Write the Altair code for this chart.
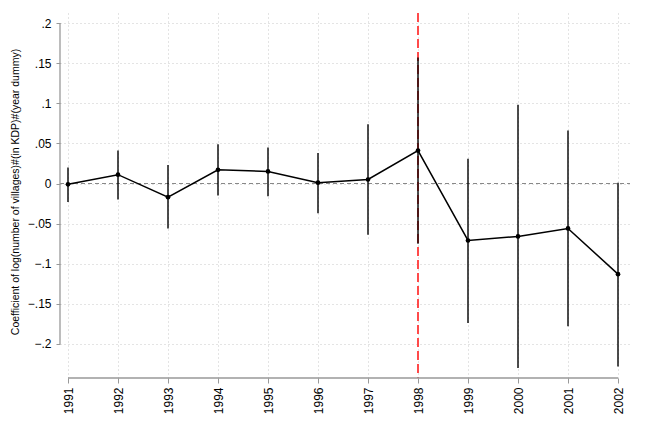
import altair as alt
import pandas as pd

years = [1991, 1992, 1993, 1994, 1995, 1996, 1997, 1998, 1999, 2000, 2001, 2002]
coef = [-0.001, 0.011, -0.017, 0.017, 0.015, 0.001, 0.005, 0.041, -0.071, -0.066, -0.056, -0.113]
ci_hi = [0.020, 0.041, 0.023, 0.049, 0.045, 0.038, 0.074, 0.157, 0.031, 0.098, 0.066, 0.001]
ci_lo = [-0.023, -0.020, -0.056, -0.015, -0.016, -0.037, -0.064, -0.075, -0.174, -0.230, -0.178, -0.228]
y_ticks = [-0.2, -0.15, -0.1, -0.05, 0, 0.05, 0.1, 0.15, 0.2]
event_year = [1998]

df = pd.DataFrame({"year": years, "coef": coef, "hi": ci_hi, "lo": ci_lo})

W, H = 570, 365
FONT = "Liberation Sans"

xscale = alt.Scale(domain=[1990.84, 2002.24], nice=False, zero=False)
yscale = alt.Scale(domain=[-0.2424, 0.2125], nice=False, zero=False)

base = alt.Chart(df)

x_axis = alt.Axis(values=years, labelAngle=-90, labelAlign="right", labelBaseline="middle",
                  format="d", grid=True, gridDash=[1, 3], gridColor="#c8c8c8", gridWidth=1,
                  domain=False, tickColor="#999999", tickSize=5, labelPadding=4,
                  labelFontSize=12, labelFont=FONT, labelColor="black", title=None)
y_axis = alt.Axis(values=y_ticks, grid=True, gridDash=[1, 3], gridColor="#c8c8c8", gridWidth=1,
                  domain=False, tickColor="#999999", tickSize=4, labelPadding=5,
                  labelFontSize=12, labelFont=FONT, labelColor="black",
                  labelExpr="datum.value == 0 ? '0' : replace(format(datum.value, '.2~f'), '0.', '.')",
                  title="Coefficient of log(number of villages)#(in KDP)#(year dummy)",
                  titleFont=FONT, titleFontSize=10.5, titleFontWeight="normal", titleColor="black",
                  titleAngle=-90, titleX=-45, titleY=H / 2 - 4, titleAlign="center",
                  titleBaseline="middle")

grid_layer = alt.Chart(pd.DataFrame({"year": years})).mark_point(opacity=0).encode(
    x=alt.X("year:Q", scale=xscale, axis=x_axis),
    y=alt.value(0),
)
grid_layer2 = alt.Chart(pd.DataFrame({"v": y_ticks})).mark_point(opacity=0).encode(
    y=alt.Y("v:Q", scale=yscale, axis=y_axis),
    x=alt.value(0),
)

# axis lines spanning tick range (Stata style)
yaxis_line = alt.Chart(pd.DataFrame({"a": [min(y_ticks)], "b": [max(y_ticks)]})).mark_rule(
    color="#999999", strokeWidth=1.3).encode(
    x=alt.value(0), y=alt.Y("a:Q", scale=yscale), y2="b:Q")
xaxis_line = alt.Chart(pd.DataFrame({"a": [min(years)], "b": [max(years)]})).mark_rule(
    color="#999999", strokeWidth=1.3).encode(
    y=alt.value(H), x=alt.X("a:Q", scale=xscale), x2="b:Q")

zero_line = alt.Chart(pd.DataFrame({"z": [0]})).mark_rule(
    color="#888888", strokeDash=[4, 3], strokeWidth=1).encode(
    y=alt.Y("z:Q", scale=yscale), x=alt.value(0), x2=alt.value(W))

red_line = alt.Chart(pd.DataFrame({"e": event_year})).mark_rule(
    color="#ff4a4a", strokeDash=[9, 4], strokeWidth=2).encode(
    x=alt.X("e:Q", scale=xscale), y=alt.value(0), y2=alt.value(H))

err = base.mark_rule(color="black", strokeWidth=1.4).encode(
    x=alt.X("year:Q", scale=xscale), y=alt.Y("lo:Q", scale=yscale), y2="hi:Q")
line = base.mark_line(color="black", strokeWidth=1.5).encode(
    x=alt.X("year:Q", scale=xscale), y=alt.Y("coef:Q", scale=yscale))
pts = base.mark_circle(color="black", size=22, opacity=1).encode(
    x=alt.X("year:Q", scale=xscale), y=alt.Y("coef:Q", scale=yscale))

chart = alt.layer(grid_layer, grid_layer2, zero_line, red_line, yaxis_line, xaxis_line,
                  err, line, pts).properties(
    width=W, height=H,
    background="white",
    autosize=alt.AutoSizeParams(type="none"),
    padding={"left": 60, "top": 13, "right": 15, "bottom": 52},
).configure_view(stroke="transparent", strokeWidth=0)

chart.save("out.html", embed_options={"renderer": "svg", "actions": False})
